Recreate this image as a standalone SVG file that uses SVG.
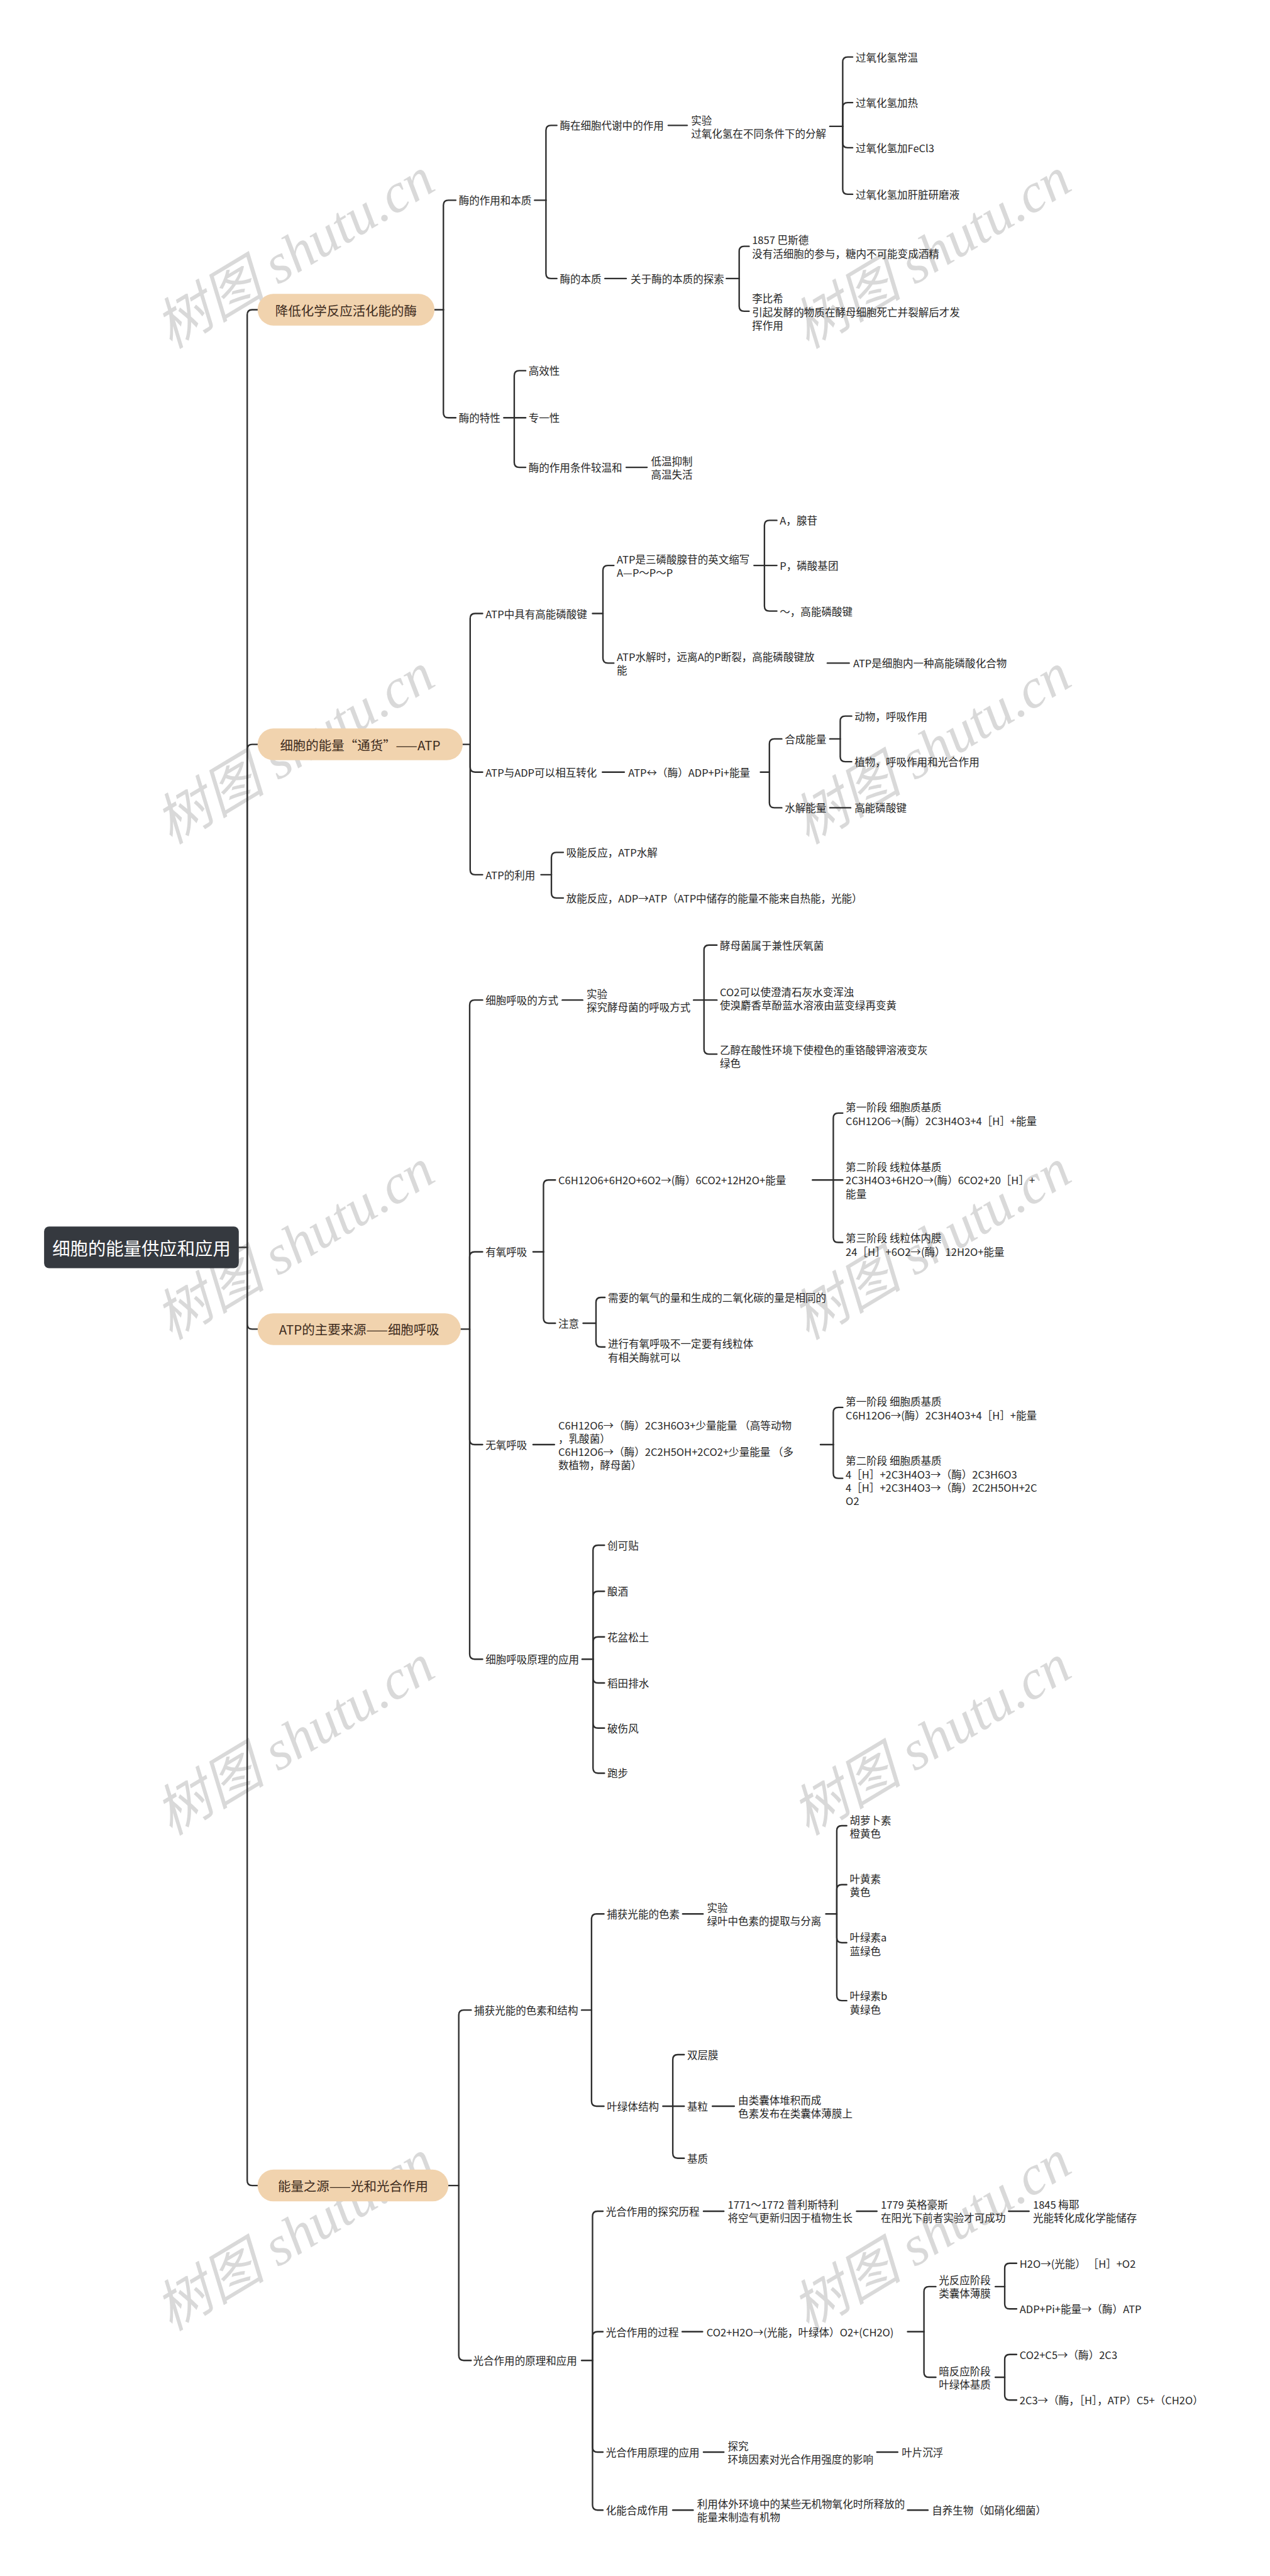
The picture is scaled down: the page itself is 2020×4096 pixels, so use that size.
<svg xmlns="http://www.w3.org/2000/svg" width="2020" height="4096" viewBox="0 0 2020 4096">
<style>
.t{font-family:"Noto Sans CJK SC","Noto Sans",sans-serif;font-size:21px;fill:#262626;dominant-baseline:central}
.m{font-family:"Noto Sans CJK SC","Noto Sans",sans-serif;font-size:26px;fill:#3d2b1d;dominant-baseline:central;text-anchor:middle}
.r{font-family:"Noto Sans CJK SC","Noto Sans",sans-serif;font-size:36px;fill:#ffffff;dominant-baseline:central;text-anchor:middle}
.c path{fill:none;stroke:#2e2e2e;stroke-width:3;stroke-linecap:round;stroke-linejoin:round}
.pill{fill:#f1d3ae}
.wm{font-family:"Liberation Serif","Noto Sans CJK SC",serif;font-style:italic;font-size:112px;fill:#d9d9d9}
</style>
<rect x="0" y="0" width="2020" height="4096" fill="#ffffff"/>
<g transform="scale(0.788)">
<g id="watermarks">
<text class="wm" transform="translate(345,705) rotate(-31)">树图 shutu.cn</text>
<text class="wm" transform="translate(1630,705) rotate(-31)">树图 shutu.cn</text>
<text class="wm" transform="translate(345,1705) rotate(-31)">树图 shutu.cn</text>
<text class="wm" transform="translate(1630,1705) rotate(-31)">树图 shutu.cn</text>
<text class="wm" transform="translate(345,2705) rotate(-31)">树图 shutu.cn</text>
<text class="wm" transform="translate(1630,2705) rotate(-31)">树图 shutu.cn</text>
<text class="wm" transform="translate(345,3705) rotate(-31)">树图 shutu.cn</text>
<text class="wm" transform="translate(1630,3705) rotate(-31)">树图 shutu.cn</text>
<text class="wm" transform="translate(345,4705) rotate(-31)">树图 shutu.cn</text>
<text class="wm" transform="translate(1630,4705) rotate(-31)">树图 shutu.cn</text>
</g>
<g id="connectors" class="c">
<path d="M482,2517 H499"/>
<path d="M499,2517 V635 Q499,625 509,625 H522"/>
<path d="M499,2517 V1512 Q499,1502 509,1502 H522"/>
<path d="M499,2517 V2672 Q499,2682 509,2682 H522"/>
<path d="M499,2517 V4400 Q499,4410 509,4410 H522"/>
<!-- S1 -->
<path d="M877,625 H895"/>
<path d="M895,625 V414 Q895,404 905,404 H920"/>
<path d="M895,625 V833 Q895,843 905,843 H920"/>
<path d="M1079,404 H1102"/>
<path d="M1102,404 V263 Q1102,253 1112,253 H1124"/>
<path d="M1102,404 V552 Q1102,562 1112,562 H1124"/>
<path d="M1349,253 H1387"/>
<path d="M1675,255 H1701"/>
<path d="M1701,255 V125 Q1701,115 1711,115 H1721"/>
<path d="M1701,255 V217 Q1701,207 1711,207 H1721"/>
<path d="M1701,255 V288 Q1701,298 1711,298 H1721"/>
<path d="M1701,255 V382 Q1701,392 1711,392 H1721"/>
<path d="M1221,562 H1264"/>
<path d="M1466,562 H1492"/>
<path d="M1492,562 V507 Q1492,497 1502,497 H1512"/>
<path d="M1492,562 V618 Q1492,628 1502,628 H1512"/>
<path d="M1017,843 H1038"/>
<path d="M1038,843 V758 Q1038,748 1048,748 H1061"/>
<path d="M1038,843 H1061"/>
<path d="M1038,843 V933 Q1038,943 1048,943 H1061"/>
<path d="M1264,943 H1306"/>
<!-- S2 -->
<path d="M934,1502 H949"/>
<path d="M949,1502 V1248 Q949,1238 959,1238 H974"/>
<path d="M949,1502 V1548 Q949,1558 959,1558 H974"/>
<path d="M949,1502 V1755 Q949,1765 959,1765 H974"/>
<path d="M1196,1238 H1217"/>
<path d="M1217,1238 V1151 Q1217,1141 1227,1141 H1239"/>
<path d="M1217,1238 V1328 Q1217,1338 1227,1338 H1239"/>
<path d="M1522,1141 H1543"/>
<path d="M1543,1141 V1060 Q1543,1050 1553,1050 H1568"/>
<path d="M1543,1141 H1568"/>
<path d="M1543,1141 V1223 Q1543,1233 1553,1233 H1568"/>
<path d="M1670,1338 H1714"/>
<path d="M1216,1558 H1260"/>
<path d="M1535,1558 H1553"/>
<path d="M1553,1558 V1501 Q1553,1491 1563,1491 H1578"/>
<path d="M1553,1558 V1620 Q1553,1630 1563,1630 H1578"/>
<path d="M1675,1491 H1696"/>
<path d="M1696,1491 V1455 Q1696,1445 1706,1445 H1719"/>
<path d="M1696,1491 V1527 Q1696,1537 1706,1537 H1719"/>
<path d="M1675,1630 H1717"/>
<path d="M1092,1765 H1113"/>
<path d="M1113,1765 V1730 Q1113,1720 1123,1720 H1137"/>
<path d="M1113,1765 V1802 Q1113,1812 1123,1812 H1137"/>
<!-- S3 -->
<path d="M930,2682 H948"/>
<path d="M948,2682 V2028 Q948,2018 958,2018 H974"/>
<path d="M948,2682 V2536 Q948,2526 958,2526 H974"/>
<path d="M948,2682 V2905 Q948,2915 958,2915 H974"/>
<path d="M948,2682 V3338 Q948,3348 958,3348 H974"/>
<path d="M1135,2018 H1176"/>
<path d="M1400,2018 H1421"/>
<path d="M1421,2018 V1917 Q1421,1907 1431,1907 H1447"/>
<path d="M1421,2018 H1447"/>
<path d="M1421,2018 V2117 Q1421,2127 1431,2127 H1447"/>
<path d="M1076,2526 H1097"/>
<path d="M1097,2526 V2391 Q1097,2381 1107,2381 H1121"/>
<path d="M1097,2526 V2660 Q1097,2670 1107,2670 H1121"/>
<path d="M1640,2381 H1682"/>
<path d="M1682,2381 V2256 Q1682,2246 1692,2246 H1701"/>
<path d="M1682,2381 H1701"/>
<path d="M1682,2381 V2497 Q1682,2507 1692,2507 H1701"/>
<path d="M1177,2670 H1203"/>
<path d="M1203,2670 V2628 Q1203,2618 1213,2618 H1221"/>
<path d="M1203,2670 V2708 Q1203,2718 1213,2718 H1221"/>
<path d="M1076,2915 H1119"/>
<path d="M1656,2915 H1682"/>
<path d="M1682,2915 V2850 Q1682,2840 1692,2840 H1701"/>
<path d="M1682,2915 V2973 Q1682,2983 1692,2983 H1701"/>
<path d="M1175,3348 H1197"/>
<path d="M1197,3348 V3128 Q1197,3118 1207,3118 H1220"/>
<path d="M1197,3348 V3221 Q1197,3211 1207,3211 H1220"/>
<path d="M1197,3348 V3313 Q1197,3303 1207,3303 H1220"/>
<path d="M1197,3348 V3386 Q1197,3396 1207,3396 H1220"/>
<path d="M1197,3348 V3477 Q1197,3487 1207,3487 H1220"/>
<path d="M1197,3348 V3568 Q1197,3578 1207,3578 H1220"/>
<!-- S4 -->
<path d="M905,4410 H926"/>
<path d="M926,4410 V4066 Q926,4056 936,4056 H951"/>
<path d="M926,4410 V4753 Q926,4763 936,4763 H951"/>
<path d="M1174,4056 H1194"/>
<path d="M1194,4056 V3872 Q1194,3862 1204,3862 H1219"/>
<path d="M1194,4056 V4240 Q1194,4250 1204,4250 H1219"/>
<path d="M1378,3862 H1419"/>
<path d="M1667,3862 H1689"/>
<path d="M1689,3862 V3694 Q1689,3684 1699,3684 H1709"/>
<path d="M1689,3862 V3813 Q1689,3803 1699,3803 H1709"/>
<path d="M1689,3862 V3910 Q1689,3920 1699,3920 H1709"/>
<path d="M1689,3862 V4027 Q1689,4037 1699,4037 H1709"/>
<path d="M1338,4250 H1358"/>
<path d="M1358,4250 V4156 Q1358,4146 1368,4146 H1381"/>
<path d="M1358,4250 H1381"/>
<path d="M1358,4250 V4345 Q1358,4355 1368,4355 H1381"/>
<path d="M1438,4250 H1482"/>
<path d="M1174,4763 H1196"/>
<path d="M1196,4763 V4472 Q1196,4462 1206,4462 H1217"/>
<path d="M1196,4763 V4715 Q1196,4705 1206,4705 H1217"/>
<path d="M1196,4763 V4938 Q1196,4948 1206,4948 H1217"/>
<path d="M1196,4763 V5055 Q1196,5065 1206,5065 H1217"/>
<path d="M1420,4462 H1461"/>
<path d="M1729,4462 H1770"/>
<path d="M2036,4462 H2077"/>
<path d="M1377,4705 H1418"/>
<path d="M1832,4705 H1865"/>
<path d="M1865,4705 V4624 Q1865,4614 1875,4614 H1889"/>
<path d="M1865,4705 V4787 Q1865,4797 1875,4797 H1889"/>
<path d="M2009,4614 H2028"/>
<path d="M2028,4614 V4577 Q2028,4567 2038,4567 H2052"/>
<path d="M2028,4614 V4649 Q2028,4659 2038,4659 H2052"/>
<path d="M2009,4797 H2028"/>
<path d="M2028,4797 V4761 Q2028,4751 2038,4751 H2052"/>
<path d="M2028,4797 V4833 Q2028,4843 2038,4843 H2052"/>
<path d="M1420,4948 H1461"/>
<path d="M1770,4948 H1812"/>
<path d="M1358,5065 H1399"/>
<path d="M1832,5065 H1873"/>
</g>
<g id="root"><rect x="89" y="2475" width="393" height="84" rx="10" fill="#35393f"/><text class="r" x="285.5" y="2517">细胞的能量供应和应用</text></g>
<g id="main1"><rect class="pill" x="520" y="593" width="357" height="64" rx="32"/><text class="m" x="698.5" y="625">降低化学反应活化能的酶</text></g>
<g id="main2"><rect class="pill" x="520" y="1470" width="414" height="64" rx="32"/><text class="m" x="727" y="1502">细胞的能量“通货”——ATP</text></g>
<g id="main3"><rect class="pill" x="520" y="2650" width="410" height="64" rx="32"/><text class="m" x="725" y="2682">ATP的主要来源——细胞呼吸</text></g>
<g id="main4"><rect class="pill" x="520" y="4378" width="385" height="64" rx="32"/><text class="m" x="712.5" y="4410">能量之源——光和光合作用</text></g>
<!-- S1 nodes -->
<g id="n1"><text class="t" x="926" y="404">酶的作用和本质</text></g>
<g id="n2"><text class="t" x="1130" y="253">酶在细胞代谢中的作用</text></g>
<g id="n3"><text class="t"><tspan x="1395" y="242">实验</tspan><tspan x="1395" y="269">过氧化氢在不同条件下的分解</tspan></text></g>
<g id="n4"><text class="t" x="1727" y="115">过氧化氢常温</text></g>
<g id="n5"><text class="t" x="1727" y="207">过氧化氢加热</text></g>
<g id="n6"><text class="t" x="1727" y="298">过氧化氢加FeCl3</text></g>
<g id="n7"><text class="t" x="1727" y="392">过氧化氢加肝脏研磨液</text></g>
<g id="n8"><text class="t" x="1130" y="562">酶的本质</text></g>
<g id="n9"><text class="t" x="1273" y="562">关于酶的本质的探索</text></g>
<g id="n10"><text class="t"><tspan x="1518" y="484">1857 巴斯德</tspan><tspan x="1518" y="511">没有活细胞的参与，糖内不可能变成酒精</tspan></text></g>
<g id="n11"><text class="t"><tspan x="1518" y="602">李比希</tspan><tspan x="1518" y="629">引起发酵的物质在酵母细胞死亡并裂解后才发</tspan><tspan x="1518" y="656">挥作用</tspan></text></g>
<g id="n12"><text class="t" x="926" y="843">酶的特性</text></g>
<g id="n13"><text class="t" x="1067" y="748">高效性</text></g>
<g id="n14"><text class="t" x="1067" y="843">专一性</text></g>
<g id="n15"><text class="t" x="1067" y="943">酶的作用条件较温和</text></g>
<g id="n16"><text class="t"><tspan x="1314" y="930">低温抑制</tspan><tspan x="1314" y="957">高温失活</tspan></text></g>
<!-- S2 nodes -->
<g id="n17"><text class="t" x="980" y="1238">ATP中具有高能磷酸键</text></g>
<g id="n18"><text class="t"><tspan x="1245" y="1128">ATP是三磷酸腺苷的英文缩写</tspan><tspan x="1245" y="1155">A—P～P～P</tspan></text></g>
<g id="n19"><text class="t" x="1574" y="1050">A，腺苷</text></g>
<g id="n20"><text class="t" x="1574" y="1141">P，磷酸基团</text></g>
<g id="n21"><text class="t" x="1574" y="1233">～，高能磷酸键</text></g>
<g id="n22"><text class="t"><tspan x="1245" y="1325">ATP水解时，远离A的P断裂，高能磷酸键放</tspan><tspan x="1245" y="1352">能</tspan></text></g>
<g id="n23"><text class="t" x="1722" y="1338">ATP是细胞内一种高能磷酸化合物</text></g>
<g id="n24"><text class="t" x="980" y="1558">ATP与ADP可以相互转化</text></g>
<g id="n25"><text class="t" x="1268" y="1558">ATP↔（酶）ADP+Pi+能量</text></g>
<g id="n26"><text class="t" x="1584" y="1491">合成能量</text></g>
<g id="n27"><text class="t" x="1725" y="1445">动物，呼吸作用</text></g>
<g id="n28"><text class="t" x="1725" y="1537">植物，呼吸作用和光合作用</text></g>
<g id="n29"><text class="t" x="1584" y="1630">水解能量</text></g>
<g id="n30"><text class="t" x="1725" y="1630">高能磷酸键</text></g>
<g id="n31"><text class="t" x="980" y="1765">ATP的利用</text></g>
<g id="n32"><text class="t" x="1143" y="1720">吸能反应，ATP水解</text></g>
<g id="n33"><text class="t" x="1143" y="1812">放能反应，ADP→ATP（ATP中储存的能量不能来自热能，光能）</text></g>
<!-- S3 nodes -->
<g id="n34"><text class="t" x="980" y="2018">细胞呼吸的方式</text></g>
<g id="n35"><text class="t"><tspan x="1184" y="2005">实验</tspan><tspan x="1184" y="2032">探究酵母菌的呼吸方式</tspan></text></g>
<g id="n36"><text class="t" x="1453" y="1907">酵母菌属于兼性厌氧菌</text></g>
<g id="n37"><text class="t"><tspan x="1453" y="2001">CO2可以使澄清石灰水变浑浊</tspan><tspan x="1453" y="2028">使溴麝香草酚蓝水溶液由蓝变绿再变黄</tspan></text></g>
<g id="n38"><text class="t"><tspan x="1453" y="2118">乙醇在酸性环境下使橙色的重铬酸钾溶液变灰</tspan><tspan x="1453" y="2145">绿色</tspan></text></g>
<g id="n39"><text class="t" x="980" y="2526">有氧呼吸</text></g>
<g id="n40"><text class="t" x="1127" y="2381">C6H12O6+6H2O+6O2→(酶）6CO2+12H2O+能量</text></g>
<g id="n41"><text class="t"><tspan x="1707" y="2234">第一阶段 细胞质基质</tspan><tspan x="1707" y="2261">C6H12O6→(酶）2C3H4O3+4［H］+能量</tspan></text></g>
<g id="n42"><text class="t"><tspan x="1707" y="2354">第二阶段 线粒体基质</tspan><tspan x="1707" y="2381">2C3H4O3+6H2O→(酶）6CO2+20［H］+</tspan><tspan x="1707" y="2408">能量</tspan></text></g>
<g id="n43"><text class="t"><tspan x="1707" y="2498">第三阶段 线粒体内膜</tspan><tspan x="1707" y="2525">24［H］+6O2→(酶）12H2O+能量</tspan></text></g>
<g id="n44"><text class="t" x="1127" y="2670">注意</text></g>
<g id="n45"><text class="t" x="1227" y="2618">需要的氧气的量和生成的二氧化碳的量是相同的</text></g>
<g id="n46"><text class="t"><tspan x="1227" y="2711">进行有氧呼吸不一定要有线粒体</tspan><tspan x="1227" y="2738">有相关酶就可以</tspan></text></g>
<g id="n47"><text class="t" x="980" y="2915">无氧呼吸</text></g>
<g id="n48"><text class="t"><tspan x="1127" y="2875">C6H12O6→（酶）2C3H6O3+少量能量 （高等动物</tspan><tspan x="1127" y="2902">，乳酸菌）</tspan><tspan x="1127" y="2929">C6H12O6→（酶）2C2H5OH+2CO2+少量能量 （多</tspan><tspan x="1127" y="2956">数植物，酵母菌）</tspan></text></g>
<g id="n49"><text class="t"><tspan x="1707" y="2828">第一阶段 细胞质基质</tspan><tspan x="1707" y="2855">C6H12O6→(酶）2C3H4O3+4［H］+能量</tspan></text></g>
<g id="n50"><text class="t"><tspan x="1707" y="2947">第二阶段 细胞质基质</tspan><tspan x="1707" y="2974">4［H］+2C3H4O3→（酶）2C3H6O3</tspan><tspan x="1707" y="3001">4［H］+2C3H4O3→（酶）2C2H5OH+2C</tspan><tspan x="1707" y="3028">O2</tspan></text></g>
<g id="n51"><text class="t" x="980" y="3348">细胞呼吸原理的应用</text></g>
<g id="n52"><text class="t" x="1226" y="3118">创可贴</text></g>
<g id="n53"><text class="t" x="1226" y="3211">酿酒</text></g>
<g id="n54"><text class="t" x="1226" y="3303">花盆松土</text></g>
<g id="n55"><text class="t" x="1226" y="3396">稻田排水</text></g>
<g id="n56"><text class="t" x="1226" y="3487">破伤风</text></g>
<g id="n57"><text class="t" x="1226" y="3578">跑步</text></g>
<!-- S4 nodes -->
<g id="n58"><text class="t" x="957" y="4056">捕获光能的色素和结构</text></g>
<g id="n59"><text class="t" x="1225" y="3862">捕获光能的色素</text></g>
<g id="n60"><text class="t"><tspan x="1427" y="3849">实验</tspan><tspan x="1427" y="3876">绿叶中色素的提取与分离</tspan></text></g>
<g id="n61"><text class="t"><tspan x="1715" y="3672">胡萝卜素</tspan><tspan x="1715" y="3699">橙黄色</tspan></text></g>
<g id="n62"><text class="t"><tspan x="1715" y="3790">叶黄素</tspan><tspan x="1715" y="3817">黄色</tspan></text></g>
<g id="n63"><text class="t"><tspan x="1715" y="3909">叶绿素a</tspan><tspan x="1715" y="3936">蓝绿色</tspan></text></g>
<g id="n64"><text class="t"><tspan x="1715" y="4027">叶绿素b</tspan><tspan x="1715" y="4054">黄绿色</tspan></text></g>
<g id="n65"><text class="t" x="1225" y="4250">叶绿体结构</text></g>
<g id="n66"><text class="t" x="1387" y="4146">双层膜</text></g>
<g id="n67"><text class="t" x="1387" y="4250">基粒</text></g>
<g id="n68"><text class="t"><tspan x="1490" y="4237">由类囊体堆积而成</tspan><tspan x="1490" y="4264">色素发布在类囊体薄膜上</tspan></text></g>
<g id="n69"><text class="t" x="1387" y="4355">基质</text></g>
<g id="n70"><text class="t" x="955" y="4763">光合作用的原理和应用</text></g>
<g id="n71"><text class="t" x="1223" y="4462">光合作用的探究历程</text></g>
<g id="n72"><text class="t"><tspan x="1469" y="4448">1771～1772 普利斯特利</tspan><tspan x="1469" y="4475">将空气更新归因于植物生长</tspan></text></g>
<g id="n73"><text class="t"><tspan x="1778" y="4448">1779 英格豪斯</tspan><tspan x="1778" y="4475">在阳光下前者实验才可成功</tspan></text></g>
<g id="n74"><text class="t"><tspan x="2085" y="4448">1845 梅耶</tspan><tspan x="2085" y="4475">光能转化成化学能储存</tspan></text></g>
<g id="n75"><text class="t" x="1223" y="4705">光合作用的过程</text></g>
<g id="n76"><text class="t" x="1426" y="4705">CO2+H2O→(光能，叶绿体）O2+(CH2O)</text></g>
<g id="n77"><text class="t"><tspan x="1895" y="4600">光反应阶段</tspan><tspan x="1895" y="4627">类囊体薄膜</tspan></text></g>
<g id="n78"><text class="t" x="2058" y="4567">H2O→(光能） ［H］+O2</text></g>
<g id="n79"><text class="t" x="2058" y="4659">ADP+Pi+能量→（酶）ATP</text></g>
<g id="n80"><text class="t"><tspan x="1895" y="4784">暗反应阶段</tspan><tspan x="1895" y="4811">叶绿体基质</tspan></text></g>
<g id="n81"><text class="t" x="2058" y="4751">CO2+C5→（酶）2C3</text></g>
<g id="n82"><text class="t" x="2058" y="4843">2C3→（酶，［H］，ATP）C5+（CH2O）</text></g>
<g id="n83"><text class="t" x="1223" y="4948">光合作用原理的应用</text></g>
<g id="n84"><text class="t"><tspan x="1469" y="4935">探究</tspan><tspan x="1469" y="4962">环境因素对光合作用强度的影响</tspan></text></g>
<g id="n85"><text class="t" x="1820" y="4948">叶片沉浮</text></g>
<g id="n86"><text class="t" x="1223" y="5065">化能合成作用</text></g>
<g id="n87"><text class="t"><tspan x="1407" y="5052">利用体外环境中的某些无机物氧化时所释放的</tspan><tspan x="1407" y="5079">能量来制造有机物</tspan></text></g>
<g id="n88"><text class="t" x="1881" y="5065">自养生物（如硝化细菌）</text></g>
</g>
</svg>
